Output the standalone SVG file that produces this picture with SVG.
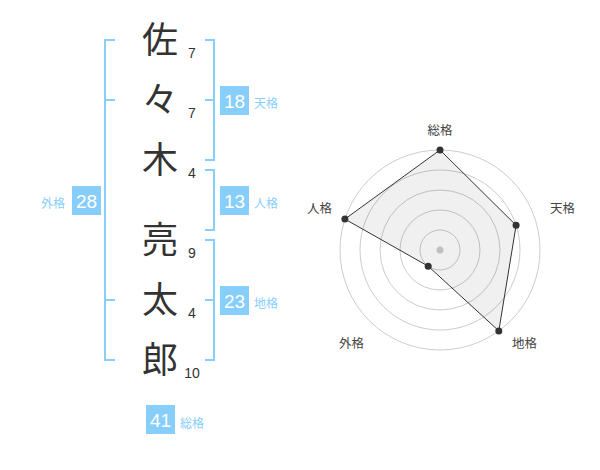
<svg xmlns="http://www.w3.org/2000/svg" width="600" height="470" viewBox="0 0 600 470">
<style>
.ch{font-family:"Noto Sans CJK JP","Noto Sans CJK SC",sans-serif;font-size:36px;fill:#333;text-anchor:middle}
.num{font-family:"Liberation Sans",Arial,sans-serif;font-size:14px;fill:#333;text-anchor:middle}
.box{fill:#87cefa}
.bn{font-family:"Liberation Sans",Arial,sans-serif;font-size:19px;fill:#fff;text-anchor:middle}
.lb{font-family:"Noto Sans CJK JP","Noto Sans CJK SC",sans-serif;font-size:12px;fill:#87cefa}
.br{fill:none;stroke:#87cefa;stroke-width:2}
.ring{fill:none;stroke:#ccc;stroke-width:1}
.rl{font-family:"Noto Sans CJK JP","Noto Sans CJK SC",sans-serif;font-size:12.5px;fill:#444;text-anchor:middle}
.pt{fill:#333}
</style>
<rect width="600" height="470" fill="#fff"/>
<g id="connectors">
<path class="br" d="M115,40 H105 V360 H115 M105,100 H115 M105,300 H115"/>
<path class="br" d="M205,40 H214 V160 H205 M205,100 H214"/>
<path class="br" d="M205,170 H214 V230 H205"/>
<path class="br" d="M205,240 H214 V360 H205 M205,300 H214"/>
</g>
<g id="name">
<g id="c1"><text class="ch" x="160" y="53">佐</text><text class="num" x="192" y="58">7</text></g>
<g id="c2"><text class="ch" x="160" y="113">々</text><text class="num" x="192" y="118">7</text></g>
<g id="c3"><text class="ch" x="160" y="173">木</text><text class="num" x="192" y="178">4</text></g>
<g id="c4"><text class="ch" x="160" y="253">亮</text><text class="num" x="192" y="258">9</text></g>
<g id="c5"><text class="ch" x="160" y="313">太</text><text class="num" x="192" y="318">4</text></g>
<g id="c6"><text class="ch" x="160" y="373">郎</text><text class="num" x="192" y="378">10</text></g>
</g>
<g id="gaikaku"><rect class="box" x="72" y="186" width="29" height="29"/><text class="bn" x="86.5" y="207.5">28</text><text class="lb" x="41" y="208">外格</text></g>
<g id="tenkaku"><rect class="box" x="220" y="86" width="29" height="29"/><text class="bn" x="234.5" y="107.5">18</text><text class="lb" x="254" y="108">天格</text></g>
<g id="jinkaku"><rect class="box" x="220" y="186" width="29" height="29"/><text class="bn" x="234.5" y="207.5">13</text><text class="lb" x="254" y="208">人格</text></g>
<g id="chikaku"><rect class="box" x="220" y="286" width="29" height="29"/><text class="bn" x="234.5" y="307.5">23</text><text class="lb" x="254" y="308">地格</text></g>
<g id="soukaku"><rect class="box" x="146" y="405" width="29" height="29"/><text class="bn" x="160.5" y="426.5">41</text><text class="lb" x="180" y="428">総格</text></g>
<g id="radar">
<circle class="ring" cx="440" cy="250" r="20"/>
<circle class="ring" cx="440" cy="250" r="40"/>
<circle class="ring" cx="440" cy="250" r="60"/>
<circle class="ring" cx="440" cy="250" r="80"/>
<circle class="ring" cx="440" cy="250" r="100"/>
<circle cx="440" cy="250" r="3.5" fill="#ccc"/>
<polygon points="440,150 516.1,225.3 498.8,330.9 428.2,266.2 344.9,219.1" fill="#000" fill-opacity="0.06" stroke="#333" stroke-width="1"/>
<circle class="pt" cx="440" cy="150" r="3.5"/>
<circle class="pt" cx="516.1" cy="225.3" r="3.5"/>
<circle class="pt" cx="498.8" cy="330.9" r="3.5"/>
<circle class="pt" cx="428.2" cy="266.2" r="3.5"/>
<circle class="pt" cx="344.9" cy="219.1" r="3.5"/>
<text class="rl" x="440" y="135">総格</text>
<text class="rl" x="562.5" y="213">天格</text>
<text class="rl" x="524.5" y="348">地格</text>
<text class="rl" x="351.5" y="348">外格</text>
<text class="rl" x="319.5" y="213">人格</text>
</g>
</svg>
